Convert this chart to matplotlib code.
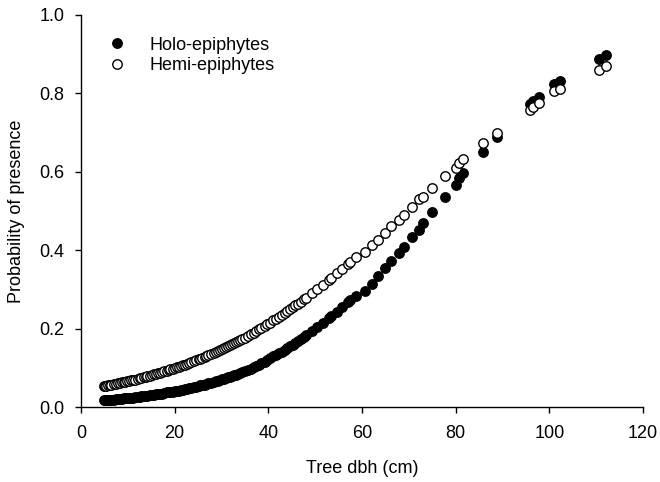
import matplotlib
matplotlib.use('Agg')
import matplotlib.pyplot as plt

plt.rcParams['font.family'] = ['Liberation Sans', 'DejaVu Sans']

# tree dbh (cm), shared by both groups
dbh = [5.0, 5.2, 5.4, 5.7, 6.1, 6.5, 7.0, 7.5, 7.9, 8.3, 8.8, 9.1, 9.5, 9.9, 10.2, 10.7,
       11.1, 11.6, 12.1, 12.5, 12.9, 13.4, 13.9, 14.2, 14.7, 15.2, 15.5, 16.0, 16.5,
       16.9, 17.2, 17.8, 18.3, 18.7, 19.1, 19.6, 20.0, 20.4, 20.9, 21.3, 21.7, 22.2,
       22.6, 23.0, 23.5, 24.1, 24.6, 25.1, 25.5, 25.9, 26.4, 26.8, 27.2, 27.7, 28.3,
       28.8, 29.3, 29.7, 30.1, 30.6, 31.0, 31.4, 31.9, 32.2, 32.6, 33.1, 33.5, 33.9,
       34.4, 35.0, 35.6, 36.2, 36.9, 37.4, 38.0, 38.5, 39.2, 39.8, 40.4, 41.1, 41.7,
       42.3, 42.9, 43.5, 44.0, 44.6, 45.2, 45.8, 46.4, 47.0, 47.6, 48.1, 49.3, 50.5,
       51.7, 52.9, 53.4, 54.6, 55.8, 57.0, 57.5, 58.7, 60.6, 62.1, 63.5, 65.0, 66.3,
       67.8, 68.9, 70.7, 72.1, 73.1, 75.0, 77.7, 80.0, 80.8, 81.6, 85.9, 88.8, 95.9,
       96.6, 97.8, 101.1, 102.3, 110.6, 112.0]

holo = [0.017, 0.017, 0.018, 0.018, 0.018, 0.019, 0.019, 0.020, 0.020, 0.021, 0.021,
        0.022, 0.022, 0.023, 0.023, 0.024, 0.024, 0.025, 0.026, 0.026, 0.027, 0.028,
        0.029, 0.029, 0.030, 0.031, 0.031, 0.032, 0.033, 0.034, 0.034, 0.036, 0.037,
        0.037, 0.038, 0.039, 0.040, 0.041, 0.042, 0.043, 0.044, 0.046, 0.047, 0.048,
        0.049, 0.051, 0.052, 0.053, 0.055, 0.056, 0.057, 0.059, 0.060, 0.062, 0.064,
        0.066, 0.067, 0.069, 0.071, 0.072, 0.074, 0.076, 0.077, 0.079, 0.081, 0.082,
        0.084, 0.087, 0.089, 0.091, 0.095, 0.098, 0.102, 0.105, 0.108, 0.111, 0.116,
        0.121, 0.125, 0.129, 0.133, 0.137, 0.141, 0.146, 0.150, 0.155, 0.159, 0.164,
        0.169, 0.174, 0.179, 0.183, 0.193, 0.204, 0.215, 0.226, 0.231, 0.243, 0.255,
        0.267, 0.272, 0.284, 0.296, 0.314, 0.333, 0.355, 0.372, 0.393, 0.409, 0.434,
        0.452, 0.469, 0.498, 0.536, 0.566, 0.583, 0.596, 0.651, 0.690, 0.772, 0.780,
        0.792, 0.823, 0.832, 0.887, 0.898]

hemi = [0.053, 0.054, 0.054, 0.055, 0.056, 0.057, 0.058, 0.059, 0.060, 0.061, 0.063,
        0.063, 0.065, 0.066, 0.066, 0.068, 0.069, 0.070, 0.072, 0.073, 0.074, 0.076,
        0.077, 0.078, 0.080, 0.082, 0.083, 0.084, 0.086, 0.087, 0.089, 0.091, 0.093,
        0.094, 0.096, 0.098, 0.099, 0.101, 0.103, 0.104, 0.106, 0.108, 0.110, 0.112,
        0.114, 0.117, 0.119, 0.122, 0.123, 0.125, 0.128, 0.130, 0.132, 0.134, 0.138,
        0.140, 0.143, 0.145, 0.147, 0.150, 0.153, 0.155, 0.158, 0.160, 0.162, 0.165,
        0.168, 0.170, 0.173, 0.177, 0.181, 0.185, 0.190, 0.193, 0.198, 0.201, 0.206,
        0.211, 0.215, 0.221, 0.225, 0.230, 0.235, 0.239, 0.244, 0.249, 0.254, 0.259,
        0.264, 0.269, 0.275, 0.279, 0.290, 0.301, 0.312, 0.324, 0.329, 0.341, 0.353,
        0.365, 0.371, 0.383, 0.396, 0.413, 0.426, 0.443, 0.462, 0.477, 0.490, 0.509,
        0.530, 0.536, 0.558, 0.588, 0.609, 0.622, 0.632, 0.673, 0.700, 0.758, 0.766,
        0.775, 0.806, 0.810, 0.860, 0.870]

xticks = [0, 20, 40, 60, 80, 100, 120]
yticks = [0.0, 0.2, 0.4, 0.6, 0.8, 1.0]

fs = 13

fig = plt.figure(figsize=(6.6, 4.82), dpi=100)
ax = fig.add_axes([0.1227, 0.1556, 0.8515, 0.8133])

ax.plot(dbh, holo, 'o', ls='none', ms=6.8, mfc='black', mec='black', mew=1.0,
        label='Holo-epiphytes')
ax.plot(dbh, hemi, 'o', ls='none', ms=6.8, mfc='white', mec='black', mew=1.0,
        label='Hemi-epiphytes')

ax.set_xlim(0, 120)
ax.set_ylim(0, 1.0)
ax.set_xticks(xticks)
ax.set_yticks(yticks)
ax.set_yticklabels(['%.1f' % v for v in yticks])
ax.spines['top'].set_visible(False)
ax.spines['right'].set_visible(False)
for s in ['left', 'bottom']:
    ax.spines[s].set_linewidth(1.0)
ax.tick_params(axis='both', direction='out', length=4.0, width=1.0, labelsize=fs)
ax.tick_params(axis='x', pad=9)
ax.tick_params(axis='y', pad=8)

ax.set_xlabel('Tree dbh (cm)', fontsize=fs, labelpad=13)
ax.set_ylabel('Probability of presence', fontsize=fs, labelpad=10)

ax.legend(loc='upper left', bbox_to_anchor=(0.032, 0.963), frameon=False,
          fontsize=fs, numpoints=1, handlelength=1.2, handletextpad=1.2,
          labelspacing=0.2, borderaxespad=0)

fig.savefig('out.png', dpi=100)
